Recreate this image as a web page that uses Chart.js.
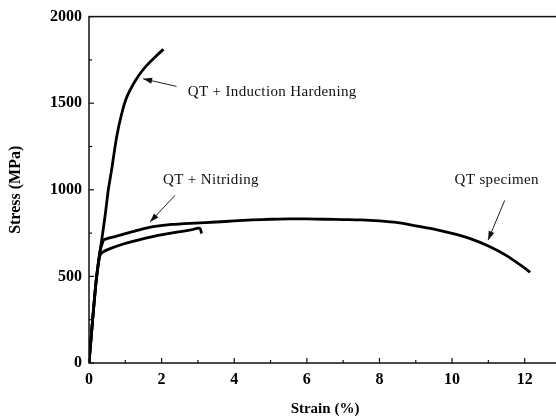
<!DOCTYPE html>
<html>
<head>
<meta charset="utf-8">
<script src="https://cdn.jsdelivr.net/npm/chart.js@4/dist/chart.umd.min.js"></script>
<style>
  html, body { margin: 0; padding: 0; background: #fff; overflow: hidden; }
  #wrap { position: relative; width: 570px; height: 419px; }
</style>
</head>
<body>
<div id="wrap"><canvas id="c"></canvas></div>
<script>
// ---- Data (strain in %, stress in MPa) ----
const inductionStrain = [0, 0.1, 0.2, 0.3, 0.35, 0.45, 0.53, 0.62, 0.76, 0.9, 1.04, 1.27, 1.45, 1.63, 1.85, 2.05];
const inductionStress = [0, 250, 480, 640, 710, 860, 997, 1112, 1304, 1439, 1535, 1628, 1683, 1727, 1772, 1812];

const nitridingStrain = [0, 0.1, 0.2, 0.3, 0.39, 0.6, 0.99, 1.35, 1.72, 2.1, 2.46, 2.8, 3.05, 3.1];
const nitridingStress = [0, 250, 480, 620, 642, 662, 690, 710, 728, 744, 757, 768, 778, 748];

const qtStrain = [0, 0.1, 0.2, 0.3, 0.38, 0.42, 0.81, 1.2, 1.63, 2.28, 2.92, 3.5, 4.0, 4.5, 5.0, 5.5, 6.0, 6.5, 7.0, 7.5, 8.0, 8.5, 9.0, 9.5, 10.0, 10.5, 11.0, 11.5, 12.0, 12.15];
const qtStress = [0, 250, 480, 640, 700, 713, 735, 758, 782, 800, 808, 814, 820, 826, 830, 832, 832, 830, 828, 826, 820, 810, 792, 773, 748, 718, 675, 620, 548, 524];

const xMajorLabels = [0, 2, 4, 6, 8, 10, 12];
const yMajorLabels = [0, 500, 1000, 1500, 2000];

// annotation texts with arrow tail/tip in data units
const noteTexts = ["QT + Induction Hardening", "QT + Nitriding", "QT specimen"];
const noteTextX = [2.72, 2.04, 10.07];
const noteTextY = [1562, 1055, 1055];
const arrowTailX = [2.41, 2.37, 11.45];
const arrowTailY = [1597, 968, 939];
const arrowTipX = [1.49, 1.68, 10.99];
const arrowTipY = [1641, 814, 709];

function pts(xs, ys) { return xs.map((x, i) => ({ x: x, y: ys[i] })); }

const serif = "'Liberation Serif', 'Times New Roman', serif";

const decor = {
  id: 'decor',
  afterDatasetsDraw(chart) {
    const ctx = chart.ctx, a = chart.chartArea;
    const xs = chart.scales.x, ys = chart.scales.y;
    ctx.save();
    // frame
    ctx.strokeStyle = '#111';
    ctx.lineWidth = 1.5;
    ctx.strokeRect(a.left, a.top, a.right - a.left, a.bottom - a.top);
    // inner ticks
    ctx.lineWidth = 1.2;
    for (let v = 0; v <= 13; v += 1) {
      const px = xs.getPixelForValue(v);
      const len = (v % 2 === 0) ? 5 : 3;
      ctx.beginPath(); ctx.moveTo(px, a.bottom); ctx.lineTo(px, a.bottom - len); ctx.stroke();
    }
    for (let v = 0; v <= 2000; v += 250) {
      const py = ys.getPixelForValue(v);
      const len = (v % 500 === 0) ? 5 : 3;
      ctx.beginPath(); ctx.moveTo(a.left, py); ctx.lineTo(a.left + len, py); ctx.stroke();
    }
    // annotations
    ctx.font = '15px ' + serif;
    try { ctx.letterSpacing = '0.35px'; } catch (e) {}
    ctx.textBaseline = 'middle';
    ctx.textAlign = 'left';
    for (let i = 0; i < noteTexts.length; i++) {
      ctx.fillStyle = '#111';
      ctx.fillText(noteTexts[i], xs.getPixelForValue(noteTextX[i]), ys.getPixelForValue(noteTextY[i]));
      const x1 = xs.getPixelForValue(arrowTailX[i]), y1 = ys.getPixelForValue(arrowTailY[i]);
      const x2 = xs.getPixelForValue(arrowTipX[i]), y2 = ys.getPixelForValue(arrowTipY[i]);
      ctx.strokeStyle = '#222';
      ctx.lineWidth = 1;
      ctx.beginPath(); ctx.moveTo(x1, y1); ctx.lineTo(x2, y2); ctx.stroke();
      const ang = Math.atan2(y2 - y1, x2 - x1);
      const hl = 9, hw = 3;
      ctx.beginPath();
      ctx.moveTo(x2, y2);
      ctx.lineTo(x2 - hl * Math.cos(ang) + hw * Math.sin(ang), y2 - hl * Math.sin(ang) - hw * Math.cos(ang));
      ctx.lineTo(x2 - hl * Math.cos(ang) - hw * Math.sin(ang), y2 - hl * Math.sin(ang) + hw * Math.cos(ang));
      ctx.closePath(); ctx.fill();
    }
    ctx.restore();
  }
};

const lineStyle = { borderColor: '#000', borderWidth: 2.8, pointRadius: 0, tension: 0.25, fill: false };

new Chart(document.getElementById('c'), {
  type: 'line',
  data: {
    datasets: [
      Object.assign({ label: 'QT + Induction Hardening', data: pts(inductionStrain, inductionStress) }, lineStyle),
      Object.assign({ label: 'QT + Nitriding', data: pts(nitridingStrain, nitridingStress) }, lineStyle),
      Object.assign({ label: 'QT specimen', data: pts(qtStrain, qtStress) }, lineStyle)
    ]
  },
  options: {
    responsive: true,
    maintainAspectRatio: false,
    animation: false,
    layout: { padding: { top: 16, right: 9, left: 0, bottom: 0 } },
    plugins: { legend: { display: false }, tooltip: { enabled: false } },
    scales: {
      x: {
        type: 'linear', min: 0, max: 13,
        border: { display: false },
        grid: { display: false, drawTicks: false },
        ticks: {
          stepSize: 1, padding: 7, color: '#000', maxRotation: 0, autoSkip: false,
          font: { family: serif, size: 16, weight: 'bold' },
          callback: (v) => xMajorLabels.includes(v) ? String(v) : ''
        },
        title: { display: true, text: 'Strain (%)', color: '#000', padding: { top: 0, bottom: 1 },
                 font: { family: serif, size: 15, weight: 'bold' } },
        afterFit: (s) => { s.height = 56; }
      },
      y: {
        min: 0, max: 2000,
        border: { display: false },
        grid: { display: false, drawTicks: false },
        ticks: {
          stepSize: 250, padding: 7, color: '#000', autoSkip: false,
          font: { family: serif, size: 16, weight: 'bold' },
          callback: (v) => yMajorLabels.includes(v) ? String(v) : ''
        },
        title: { display: true, text: 'Stress (MPa)', color: '#000', padding: { top: 6, bottom: 0 },
                 font: { family: serif, size: 16, weight: 'bold' } },
        afterFit: (s) => { s.width = 89; }
      }
    }
  },
  plugins: [decor]
});
</script>
</body>
</html>
